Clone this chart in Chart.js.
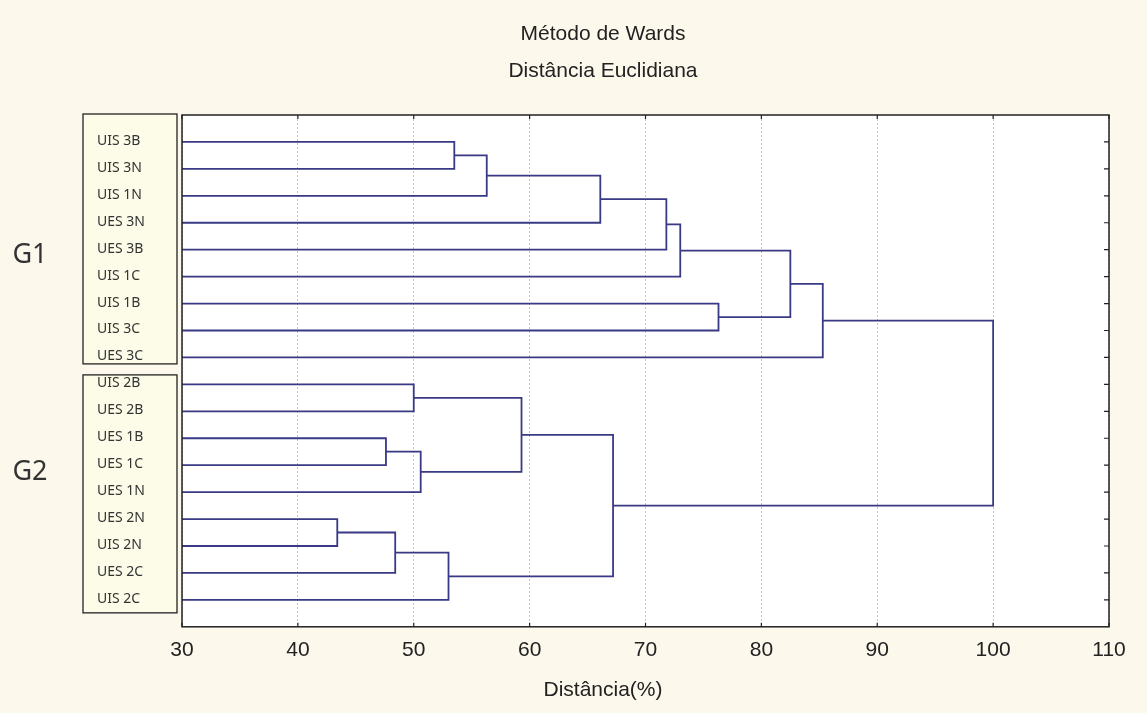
<!DOCTYPE html>
<html>
<head>
<meta charset="utf-8">
<script src="https://cdn.jsdelivr.net/npm/chart.js@4.4.1/dist/chart.umd.min.js"></script>
<style>
html,body{margin:0;padding:0;background:#fcf8ec;}
#wrap{width:1147px;height:713px;position:relative;}
</style>
</head>
<body>
<div id="wrap"><canvas id="c"></canvas></div>
<script>
// ---- data ----
const leafLabels = ['UIS 3B','UIS 3N','UIS 1N','UES 3N','UES 3B','UIS 1C','UIS 1B','UIS 3C','UES 3C',
                    'UIS 2B','UES 2B','UES 1B','UES 1C','UES 1N','UES 2N','UIS 2N','UES 2C','UIS 2C'];
const groupNames = ['G1','G2'];
const groupFirstLeaf = [1, 10];
const groupLastLeaf = [9, 18];
// node ids: leaves 0..17, merge k creates node 18+k
const mergeLeft   = [0, 18, 19, 20, 21, 6, 22, 24, 9, 11, 27, 26, 14, 30, 31, 29, 25];
const mergeRight  = [1, 2, 3, 4, 5, 7, 23, 8, 10, 12, 13, 28, 15, 16, 17, 32, 33];
const mergeHeight = [53.5, 56.3, 66.1, 71.8, 73.0, 76.3, 82.5, 85.3, 50.0, 47.6, 50.6, 59.3, 43.4, 48.4, 53.0, 67.2, 100.0];
const xTickValues = [30, 40, 50, 60, 70, 80, 90, 100, 110];
const titleLines = ['Método de Wards', 'Distância Euclidiana'];
const xAxisTitle = 'Distância(%)';

// ---- build dendrogram node positions ----
const leafBase = xTickValues[0];
const nodeX = [], nodeY = [];
leafLabels.forEach((_, i) => { nodeX.push(leafBase); nodeY.push(i + 1); });
const datasets = [];
mergeHeight.forEach((h, k) => {
  const a = mergeLeft[k], b = mergeRight[k];
  datasets.push({
    data: [
      {x: nodeX[a], y: nodeY[a]},
      {x: h, y: nodeY[a]},
      {x: h, y: nodeY[b]},
      {x: nodeX[b], y: nodeY[b]}
    ],
    showLine: true,
    borderColor: '#393985',
    borderWidth: 1.8,
    pointRadius: 0,
    pointHoverRadius: 0,
    fill: false,
    tension: 0
  });
  nodeX.push(h);
  nodeY.push((nodeY[a] + nodeY[b]) / 2);
});

const FONT = "'Liberation Sans', Arial, sans-serif";
const groupLabelShift = [6, -20];

const decor = {
  id: 'decor',
  beforeDraw(chart) {
    const {ctx, chartArea: a, scales: {y}} = chart;
    ctx.save();
    ctx.fillStyle = '#fcf8ec';
    ctx.fillRect(0, 0, chart.width, chart.height);
    ctx.fillStyle = '#ffffff';
    ctx.fillRect(a.left, a.top, a.right - a.left, a.bottom - a.top);
    // group boxes
    const split = (y.getPixelForValue(groupLastLeaf[0]) + y.getPixelForValue(groupFirstLeaf[1])) / 2;
    groupNames.forEach((name, g) => {
      const top = g === 0 ? a.top - 1 : split + 4;
      const bottom = g === 0 ? split - 7 : y.getPixelForValue(groupLastLeaf[g]) + 13;
      const left = a.left - 99, right = a.left - 5;
      ctx.fillStyle = '#fdfce8';
      ctx.fillRect(left, top, right - left, bottom - top);
      ctx.strokeStyle = '#222';
      ctx.lineWidth = 1.3;
      ctx.strokeRect(left, top, right - left, bottom - top);
      ctx.fillStyle = '#333';
      ctx.font = "27px 'Noto Sans', 'Open Sans', sans-serif";
      ctx.textAlign = 'center';
      ctx.textBaseline = 'middle';
      const midLeaf = (groupFirstLeaf[g] + groupLastLeaf[g]) / 2;
      ctx.fillText(name, 30, y.getPixelForValue(midLeaf) + groupLabelShift[g]);
    });
    ctx.restore();
  },
  afterDraw(chart) {
    const {ctx, chartArea: a, scales: {x, y}} = chart;
    ctx.save();
    ctx.strokeStyle = '#222';
    ctx.lineWidth = 1.5;
    ctx.strokeRect(a.left, a.top, a.right - a.left, a.bottom - a.top);
    ctx.lineWidth = 1.2;
    ctx.beginPath();
    leafLabels.forEach((_, i) => {
      const py = y.getPixelForValue(i + 1);
      ctx.moveTo(a.right, py); ctx.lineTo(a.right - 5, py);
    });
    xTickValues.forEach(v => {
      const px = x.getPixelForValue(v);
      ctx.moveTo(px, a.top); ctx.lineTo(px, a.top + 4);
      ctx.moveTo(px, a.bottom); ctx.lineTo(px, a.bottom - 4);
    });
    ctx.stroke();
    ctx.restore();
  }
};

new Chart(document.getElementById('c'), {
  type: 'scatter',
  data: { datasets },
  plugins: [decor],
  options: {
    responsive: true,
    maintainAspectRatio: false,
    animation: false,
    events: [],
    layout: { padding: { left: 97, right: 38, top: 0, bottom: 0 } },
    plugins: {
      legend: { display: false },
      tooltip: { enabled: false },
      title: {
        display: true,
        text: titleLines,
        color: '#222',
        font: { family: FONT, size: 21, weight: 'normal', lineHeight: 37 / 21 },
        padding: { top: 15.5, bottom: 25.5 }
      },
      subtitle: {
        display: true,
        position: 'bottom',
        text: xAxisTitle,
        color: '#222',
        font: { family: FONT, size: 21, weight: 'normal', lineHeight: 1.2 },
        padding: { top: 6, bottom: 10 }
      }
    },
    scales: {
      x: {
        type: 'linear',
        position: 'bottom',
        min: xTickValues[0],
        max: xTickValues[xTickValues.length - 1],
        afterBuildTicks: s => { s.ticks = xTickValues.map(v => ({value: v})); },
        afterFit: s => { s.height = 45; },
        ticks: { color: '#222', font: { family: FONT, size: 21 }, padding: 11 },
        grid: { color: '#c4c4c4', lineWidth: 1, drawTicks: false },
        border: { display: false, dash: [2, 2] }
      },
      y: {
        type: 'linear',
        position: 'left',
        min: 0,
        max: leafLabels.length + 1,
        reverse: true,
        afterBuildTicks: s => { s.ticks = leafLabels.map((_, i) => ({value: i + 1})); },
        afterFit: s => { s.width = 85; },
        ticks: {
          autoSkip: false,
          crossAlign: 'far',
          labelOffset: -1,
          color: '#333',
          font: { family: "'Noto Sans', 'Open Sans', sans-serif", size: 14 },
          callback: v => leafLabels[v - 1]
        },
        grid: { display: false, drawTicks: false },
        border: { display: false }
      }
    }
  }
});
</script>
</body>
</html>
